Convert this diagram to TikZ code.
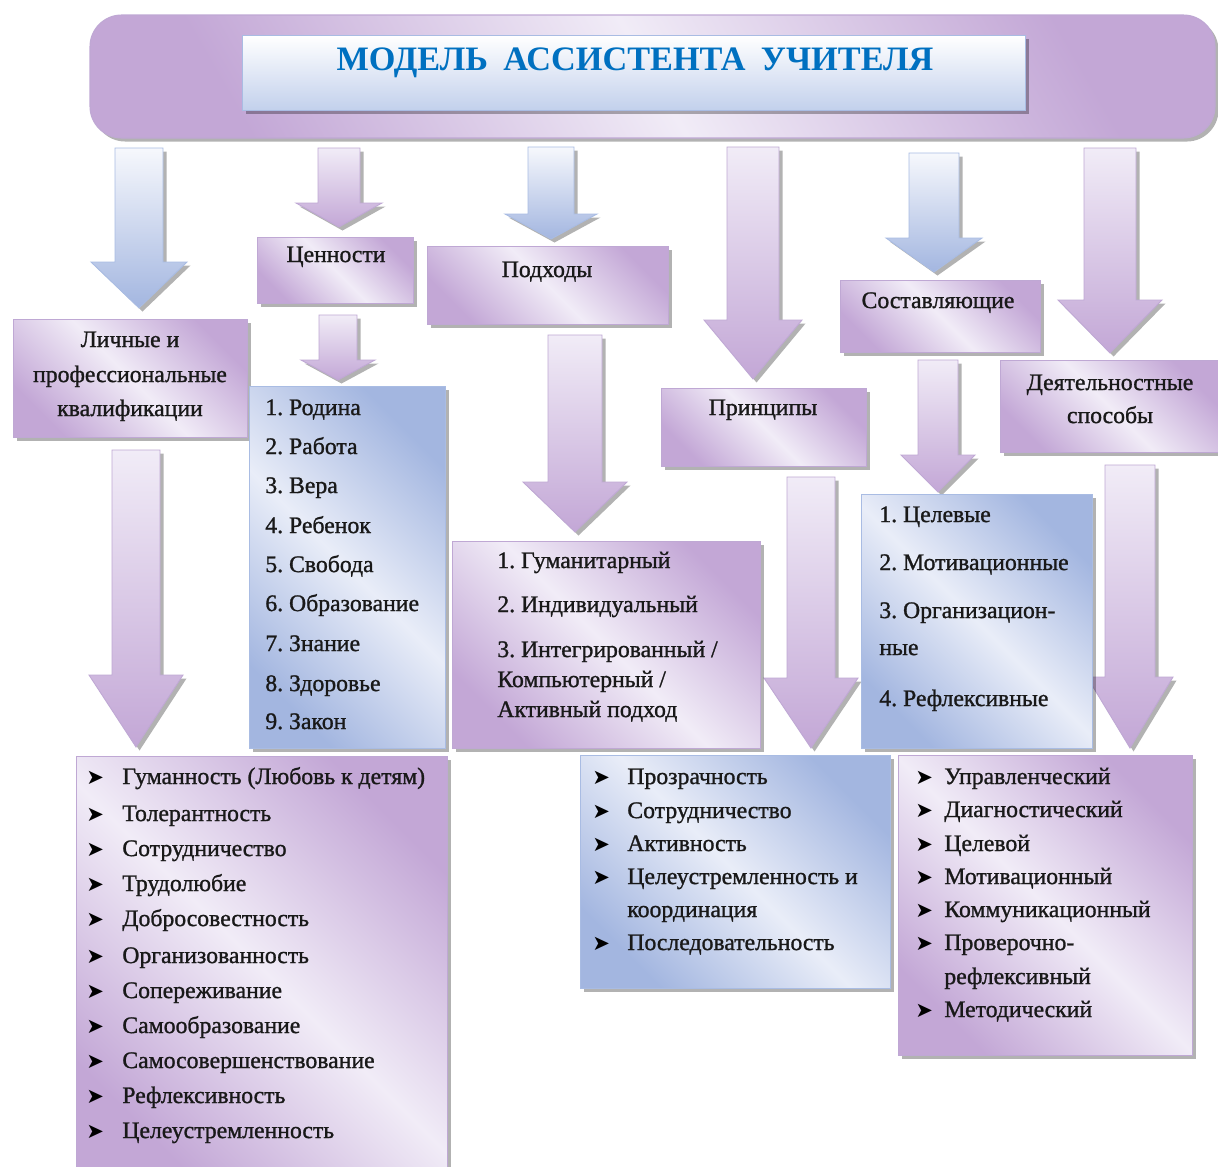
\documentclass[tikz,border=0pt]{standalone}
\usepackage{fontspec}
\setmainfont{Liberation Serif}
\newfontfamily\bodyfont[FakeBold=1.1]{Liberation Serif}
\newfontfamily\symfont{DejaVu Sans}
\usetikzlibrary{shadows}
\definecolor{pD}{HTML}{C3A7D6}
\definecolor{pL}{HTML}{F1ECF7}
\definecolor{pE}{HTML}{BFA8D4}
\definecolor{bD}{HTML}{A3B6E0}
\definecolor{bL}{HTML}{E9EDF8}
\definecolor{bE}{HTML}{A9BCE3}
\definecolor{titleblue}{HTML}{0070C0}
\definecolor{tbB}{HTML}{C2D0EC}
\frenchspacing
\tikzset{
  shd/.style={drop shadow={shadow xshift=2pt, shadow yshift=-2pt, fill=black, opacity=0.3}},
  pbox/.style={draw=pE, line width=0.6pt, top color=pD, bottom color=pD, middle color=pL, shading angle=-45, shd, inner sep=0pt},
  bbox/.style={draw=bE, line width=0.6pt, top color=bD, bottom color=bD, middle color=bL, shading angle=-45, shd, inner sep=0pt},
  parr/.style={draw=pE, line width=0.5pt, top color=pL, bottom color=pD, shd},
  barr/.style={draw=bE, line width=0.5pt, top color=bL!40, bottom color=bD, shd},
  txt/.style={font=\bodyfont\fontsize{13.5}{16}\selectfont, text=black!90, inner sep=0pt, text height=1.5ex, text depth=.25ex},
  bul/.style={font=\symfont\fontsize{12}{14}\selectfont, inner sep=0pt, text height=1.5ex, text depth=.25ex}
}
\newcommand\mkbox[6]{\node[#1, anchor=north west, minimum width={(#5-#3)*0.02cm}, minimum height={(#6-#4)*0.02cm}] (#2) at (#3,#4) {};}
\newcommand\darr[8]{\path[#1] ({#3-#5},#4) -- ({#3+#5},#4) -- ({#3+#5},#7) -- ({#3+#6},#7) -- (#3,#8) -- ({#3-#6},#7) -- ({#3-#5},#7) -- cycle;}
\newcommand\li[4]{\node[txt, anchor=west] (#1) at (#2,#3) {#4};}
\newcommand\bu[3]{\node[bul, anchor=west] (#1) at (#2,#3) {➤};}
\newcommand\hd[4]{\node[txt] (#1) at (#2,#3) {#4};}
\begin{document}
\begin{tikzpicture}[x=0.02cm, y=-0.02cm]
\useasboundingbox (0,0) rectangle (1218,1167);
\fill[white] (0,0) rectangle (1218,1167);
% banner
\path[draw=pE, line width=0.6pt, rounded corners=18pt, top color=pD, bottom color=pD, middle color=pL, shading angle=-60, shd] (90,15) rectangle (1215,138);
\coordinate (banner) at (652,138);
% title
\mkbox{draw=bE, line width=0.8pt, top color=white, bottom color=tbB, shd, inner sep=0pt}{tbox}{242}{35}{1025}{110}
\node[font=\fontsize{19.5}{22}\bfseries\selectfont, text=titleblue, inner sep=0pt] (title) at (635,63) {МОДЕЛЬ\hspace{0.45em}АССИСТЕНТА\hspace{0.45em}УЧИТЕЛЯ};
% first level arrows
\darr{barr}{a1}{139}{148}{24}{48}{262}{308}
\darr{parr}{a2}{339}{148}{21}{43}{203}{227}
\darr{barr}{a3}{551}{147}{23}{46}{214}{239}
\darr{parr}{a4}{753}{147}{26}{49}{320}{379}
\darr{barr}{a5}{934}{153}{25}{48}{238}{272}
\darr{parr}{a6}{1110}{148}{26}{52}{300}{353}
% heading boxes
\mkbox{pbox}{lich}{13}{319}{247}{437}
\mkbox{pbox}{cen}{257}{237}{413}{303}
\mkbox{pbox}{pod}{427}{246}{668}{324}
\mkbox{pbox}{pri}{661}{388}{866}{466}
\mkbox{pbox}{sos}{840}{280}{1040}{352}
\mkbox{pbox}{dey}{1000}{360}{1218}{452}
% second level arrows
\darr{parr}{b1}{136}{450}{24}{47}{675}{747}
\darr{parr}{b2}{338}{315}{19}{37}{360}{380}
\darr{parr}{b3}{575}{335}{27}{52}{482}{532}
\darr{parr}{b4}{811}{477}{24}{47}{678}{748}
\darr{parr}{b5}{938}{360}{20}{37}{455}{492}
\darr{parr}{b6}{1130}{465}{25}{43}{677}{748}
% lower boxes
\mkbox{bbox}{val}{249}{386}{445}{748}
\mkbox{pbox}{app}{452}{541}{760}{748}
\mkbox{bbox}{com}{861}{494}{1092}{748}
\mkbox{pbox}{qua}{76}{756}{447}{1180}
\mkbox{bbox}{prl}{580}{755}{890}{988}
\mkbox{pbox}{met}{898}{755}{1192}{1055}
% heading texts
\hd{tLi1}{130}{342}{Личные и}
\hd{tLi2}{130}{377}{профессиональные}
\hd{tLi3}{130}{411}{квалификации}
\hd{tCen}{336}{257}{Ценности}
\hd{tPod}{547}{272}{Подходы}
\hd{tPri}{763}{410}{Принципы}
\hd{tSos}{938}{303}{Составляющие}
\hd{tDe1}{1110}{385}{Деятельностные}
\hd{tDe2}{1110}{418}{способы}
% values
\li{v1}{265}{410}{1. Родина}
\li{v2}{265}{449}{2. Работа}
\li{v3}{265}{488}{3. Вера}
\li{v4}{265}{528}{4. Ребенок}
\li{v5}{265}{567}{5. Свобода}
\li{v6}{265}{606}{6. Образование}
\li{v7}{265}{646}{7. Знание}
\li{v8}{265}{686}{8. Здоровье}
\li{v9}{265}{724}{9. Закон}
% approaches
\li{p1}{497}{563}{1. Гуманитарный}
\li{p2}{497}{607}{2. Индивидуальный}
\li{p3}{497}{652}{3. Интегрированный /}
\li{p4}{497}{682}{Компьютерный /}
\li{p5}{497}{712}{Активный подход}
% components
\li{c1}{879}{517}{1. Целевые}
\li{c2}{879}{565}{2. Мотивационные}
\li{c3}{879}{613}{3. Организацион-}
\li{c4}{879}{650}{ные}
\li{c5}{879}{701}{4. Рефлексивные}
% qualities
\bu{qb1}{86}{779}\li{q1}{122}{779}{Гуманность (Любовь к детям)}
\bu{qb2}{86}{816}\li{q2}{122}{816}{Толерантность}
\bu{qb3}{86}{851}\li{q3}{122}{851}{Сотрудничество}
\bu{qb4}{86}{886}\li{q4}{122}{886}{Трудолюбие}
\bu{qb5}{86}{921}\li{q5}{122}{921}{Добросовестность}
\bu{qb6}{86}{958}\li{q6}{122}{958}{Организованность}
\bu{qb7}{86}{993}\li{q7}{122}{993}{Сопереживание}
\bu{qb8}{86}{1028}\li{q8}{122}{1028}{Самообразование}
\bu{qb9}{86}{1063}\li{q9}{122}{1063}{Самосовершенствование}
\bu{qb10}{86}{1098}\li{q10}{122}{1098}{Рефлексивность}
\bu{qb11}{86}{1133}\li{q11}{122}{1133}{Целеустремленность}
% principles
\bu{rb1}{592}{779}\li{r1}{627}{779}{Прозрачность}
\bu{rb2}{592}{813}\li{r2}{627}{813}{Сотрудничество}
\bu{rb3}{592}{846}\li{r3}{627}{846}{Активность}
\bu{rb4}{592}{879}\li{r4}{627}{879}{Целеустремленность и}
\li{r5}{627}{912}{координация}
\bu{rb6}{592}{945}\li{r6}{627}{945}{Последовательность}
% methods
\bu{mb1}{915}{779}\li{m1}{944}{779}{Управленческий}
\bu{mb2}{915}{812}\li{m2}{944}{812}{Диагностический}
\bu{mb3}{915}{846}\li{m3}{944}{846}{Целевой}
\bu{mb4}{915}{879}\li{m4}{944}{879}{Мотивационный}
\bu{mb5}{915}{912}\li{m5}{944}{912}{Коммуникационный}
\bu{mb6}{915}{945}\li{m6}{944}{945}{Проверочно-}
\li{m7}{944}{979}{рефлексивный}
\bu{mb8}{915}{1012}\li{m8}{944}{1012}{Методический}
\end{tikzpicture}
\end{document}
